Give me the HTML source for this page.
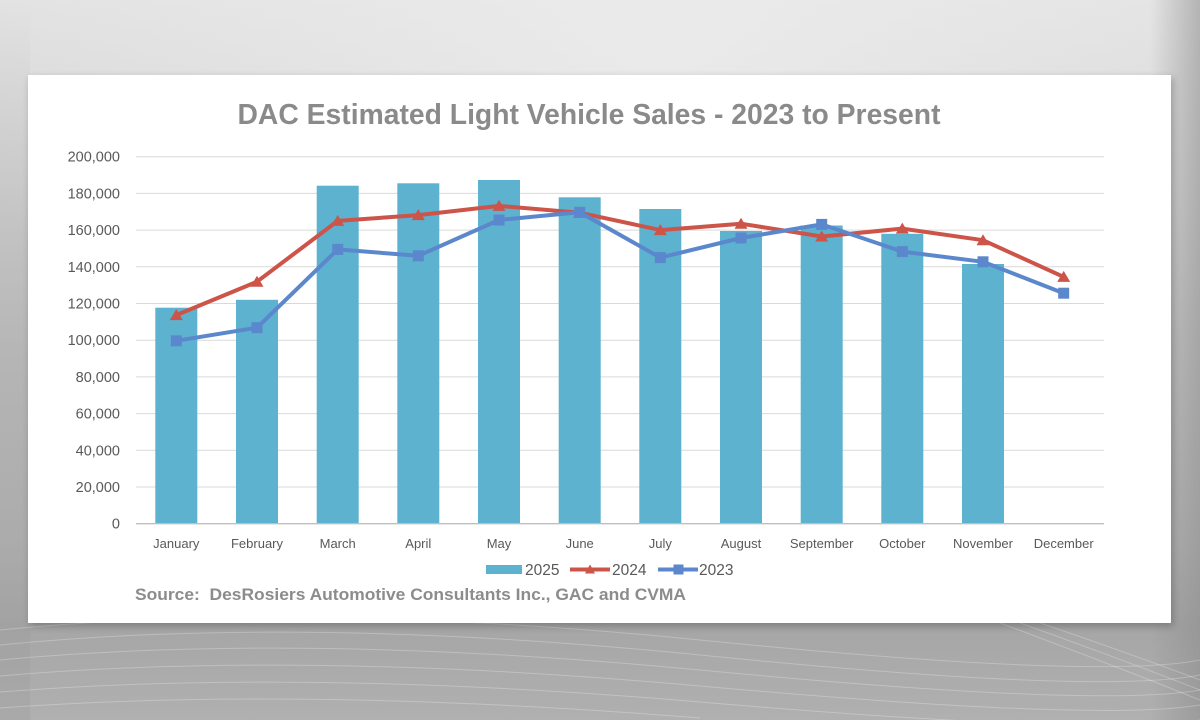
<!DOCTYPE html>
<html>
<head>
<meta charset="utf-8">
<style>
  html,body{margin:0;padding:0;width:1200px;height:720px;overflow:hidden;}
  svg{display:block;}
</style>
</head>
<body>
<svg width="1200" height="720" viewBox="0 0 1200 720" xmlns="http://www.w3.org/2000/svg">
  <defs>
    <linearGradient id="bg" x1="0" y1="0" x2="0" y2="1">
      <stop offset="0" stop-color="#e2e2e2"/>
      <stop offset="0.35" stop-color="#cdcdcd"/>
      <stop offset="0.75" stop-color="#b4b4b4"/>
      <stop offset="0.87" stop-color="#a6a6a6"/>
      <stop offset="1" stop-color="#b0b0b0"/>
    </linearGradient>
    <radialGradient id="hl" cx="0.55" cy="0.05" r="0.6">
      <stop offset="0" stop-color="#ececec" stop-opacity="0.9"/>
      <stop offset="1" stop-color="#ececec" stop-opacity="0"/>
    </radialGradient>
    <linearGradient id="lside" x1="0" y1="0" x2="0" y2="1">
      <stop offset="0" stop-color="#9a9a9a" stop-opacity="0"/>
      <stop offset="0.5" stop-color="#9a9a9a" stop-opacity="0.35"/>
      <stop offset="1" stop-color="#9a9a9a" stop-opacity="0.3"/>
    </linearGradient>
    <linearGradient id="rside" x1="1" y1="0" x2="0" y2="0">
      <stop offset="0" stop-color="#8c8c8c" stop-opacity="0.55"/>
      <stop offset="1" stop-color="#8c8c8c" stop-opacity="0"/>
    </linearGradient>
    <filter id="sh" x="-5%" y="-5%" width="110%" height="115%">
      <feGaussianBlur stdDeviation="4"/>
    </filter>
  </defs>

  <!-- background -->
  <rect x="0" y="0" width="1200" height="720" fill="url(#bg)"/>
  <rect x="0" y="0" width="1200" height="720" fill="url(#hl)"/>
  <rect x="0" y="0" width="30" height="720" fill="url(#lside)"/>
  <rect x="1150" y="0" width="50" height="720" fill="url(#rside)"/>

  <!-- wavy lines -->
  <g fill="none" stroke="#ffffff" stroke-opacity="0.25" stroke-width="1">
    <path d="M0 630 Q300 600 700 640 T1200 660"/>
    <path d="M0 645 Q300 615 700 655 T1200 675"/>
    <path d="M0 660 Q300 632 700 670 T1200 690"/>
    <path d="M0 676 Q300 650 700 686 T1200 705"/>
    <path d="M0 692 Q300 668 700 702 T1200 720"/>
    <path d="M0 708 Q300 686 700 718"/>
    <path d="M1000 623 Q1100 660 1200 700"/>
    <path d="M1020 623 Q1110 655 1200 690"/>
    <path d="M1040 623 Q1120 650 1200 680"/>
  </g>

  <!-- panel shadow + panel -->
  <rect x="30" y="78" width="1143" height="548" fill="#000" opacity="0.25" filter="url(#sh)"/>
  <rect x="28" y="75" width="1143" height="548" fill="#ffffff"/>

  <!-- title -->
  <text x="589" y="124" text-anchor="middle" font-family="Liberation Sans, sans-serif" font-weight="bold" font-size="29" fill="#8a8a8a" textLength="703" lengthAdjust="spacingAndGlyphs">DAC Estimated Light Vehicle Sales - 2023 to Present</text>

  <!-- gridlines -->
  <g stroke="#d9d9d9" stroke-width="1">
    <line x1="136" x2="1104" y1="156.7" y2="156.7"/>
    <line x1="136" x2="1104" y1="193.4" y2="193.4"/>
    <line x1="136" x2="1104" y1="230.1" y2="230.1"/>
    <line x1="136" x2="1104" y1="266.8" y2="266.8"/>
    <line x1="136" x2="1104" y1="303.5" y2="303.5"/>
    <line x1="136" x2="1104" y1="340.2" y2="340.2"/>
    <line x1="136" x2="1104" y1="376.9" y2="376.9"/>
    <line x1="136" x2="1104" y1="413.6" y2="413.6"/>
    <line x1="136" x2="1104" y1="450.3" y2="450.3"/>
    <line x1="136" x2="1104" y1="487.0" y2="487.0"/>
  </g>

  <!-- y labels -->
  <g font-family="Liberation Sans, sans-serif" font-size="14.5" fill="#595959" text-anchor="end">
    <text x="120" y="161.7">200,000</text>
    <text x="120" y="198.4">180,000</text>
    <text x="120" y="235.1">160,000</text>
    <text x="120" y="271.8">140,000</text>
    <text x="120" y="308.5">120,000</text>
    <text x="120" y="345.2">100,000</text>
    <text x="120" y="381.9">80,000</text>
    <text x="120" y="418.6">60,000</text>
    <text x="120" y="455.3">40,000</text>
    <text x="120" y="492.0">20,000</text>
    <text x="120" y="528.7">0</text>
  </g>

  <!-- bars 2025 -->
  <g fill="#5db2cf">
    <rect x="155.3" y="307.7" width="42" height="216"/>
    <rect x="236" y="299.8" width="42" height="223.9"/>
    <rect x="316.7" y="185.7" width="42" height="338"/>
    <rect x="397.3" y="183.3" width="42" height="340.4"/>
    <rect x="478" y="180.0" width="42" height="343.7"/>
    <rect x="558.7" y="197.3" width="42" height="326.4"/>
    <rect x="639.3" y="209.0" width="42" height="314.7"/>
    <rect x="720" y="231.0" width="42" height="292.7"/>
    <rect x="800.7" y="225.5" width="42" height="298.2"/>
    <rect x="881.3" y="233.8" width="42" height="289.9"/>
    <rect x="962" y="264.0" width="42" height="259.7"/>
  </g>

  <!-- axis line -->
  <line x1="136" x2="1104" y1="523.7" y2="523.7" stroke="#bfbfbf" stroke-width="1.3"/>

  <!-- 2024 line -->
  <polyline fill="none" stroke="#cc5449" stroke-width="4" stroke-linejoin="round"
    points="176.3,315.1 257,281.7 337.7,220.9 418.3,215.1 499,205.9 579.7,212.7 660.3,230.1 741,223.7 821.7,236.5 902.3,228.6 983,240.2 1063.7,276.9"/>
  <g fill="#cc5449">
    <path d="M176.3,309.1 l6.5,11 h-13 z"/>
    <path d="M257,275.7 l6.5,11 h-13 z"/>
    <path d="M337.7,214.9 l6.5,11 h-13 z"/>
    <path d="M418.3,209.1 l6.5,11 h-13 z"/>
    <path d="M499,199.9 l6.5,11 h-13 z"/>
    <path d="M579.7,206.7 l6.5,11 h-13 z"/>
    <path d="M660.3,224.1 l6.5,11 h-13 z"/>
    <path d="M741,217.7 l6.5,11 h-13 z"/>
    <path d="M821.7,230.5 l6.5,11 h-13 z"/>
    <path d="M902.3,222.6 l6.5,11 h-13 z"/>
    <path d="M983,234.2 l6.5,11 h-13 z"/>
    <path d="M1063.7,270.9 l6.5,11 h-13 z"/>
  </g>

  <!-- 2023 line -->
  <polyline fill="none" stroke="#5b87cd" stroke-width="4" stroke-linejoin="round"
    points="176.3,340.8 257,327.7 337.7,249.4 418.3,255.8 499,220 579.7,212.3 660.3,257.6 741,238 821.7,224.4 902.3,251.6 983,261.8 1063.7,293.2"/>
  <g fill="#5b87cd">
    <rect x="170.8" y="335.3" width="11" height="11"/>
    <rect x="251.5" y="322.2" width="11" height="11"/>
    <rect x="332.2" y="243.9" width="11" height="11"/>
    <rect x="412.8" y="250.3" width="11" height="11"/>
    <rect x="493.5" y="214.5" width="11" height="11"/>
    <rect x="574.2" y="206.8" width="11" height="11"/>
    <rect x="654.8" y="252.1" width="11" height="11"/>
    <rect x="735.5" y="232.5" width="11" height="11"/>
    <rect x="816.2" y="218.9" width="11" height="11"/>
    <rect x="896.8" y="246.1" width="11" height="11"/>
    <rect x="977.5" y="256.3" width="11" height="11"/>
    <rect x="1058.2" y="287.7" width="11" height="11"/>
  </g>

  <!-- x labels -->
  <g font-family="Liberation Sans, sans-serif" font-size="13" fill="#595959" text-anchor="middle">
    <text x="176.3" y="548">January</text>
    <text x="257" y="548">February</text>
    <text x="337.7" y="548">March</text>
    <text x="418.3" y="548">April</text>
    <text x="499" y="548">May</text>
    <text x="579.7" y="548">June</text>
    <text x="660.3" y="548">July</text>
    <text x="741" y="548">August</text>
    <text x="821.7" y="548">September</text>
    <text x="902.3" y="548">October</text>
    <text x="983" y="548">November</text>
    <text x="1063.7" y="548">December</text>
  </g>

  <!-- legend -->
  <rect x="486" y="565" width="36" height="9" fill="#5db2cf"/>
  <line x1="570" x2="610" y1="569.5" y2="569.5" stroke="#cc5449" stroke-width="4"/>
  <path d="M590,564.5 l5,9 h-10 z" fill="#cc5449"/>
  <line x1="658" x2="698" y1="569.5" y2="569.5" stroke="#5b87cd" stroke-width="4"/>
  <rect x="673.5" y="564.5" width="10" height="10" fill="#5b87cd"/>
  <g font-family="Liberation Sans, sans-serif" font-size="15.5" fill="#595959">
    <text x="525" y="575">2025</text>
    <text x="612" y="575">2024</text>
    <text x="699" y="575">2023</text>
  </g>

  <!-- source -->
  <text x="135" y="600" font-family="Liberation Sans, sans-serif" font-weight="bold" font-size="16.5" fill="#8c8c8c" textLength="551" lengthAdjust="spacingAndGlyphs" xml:space="preserve">Source:  DesRosiers Automotive Consultants Inc., GAC and CVMA</text>
</svg>
</body>
</html>
